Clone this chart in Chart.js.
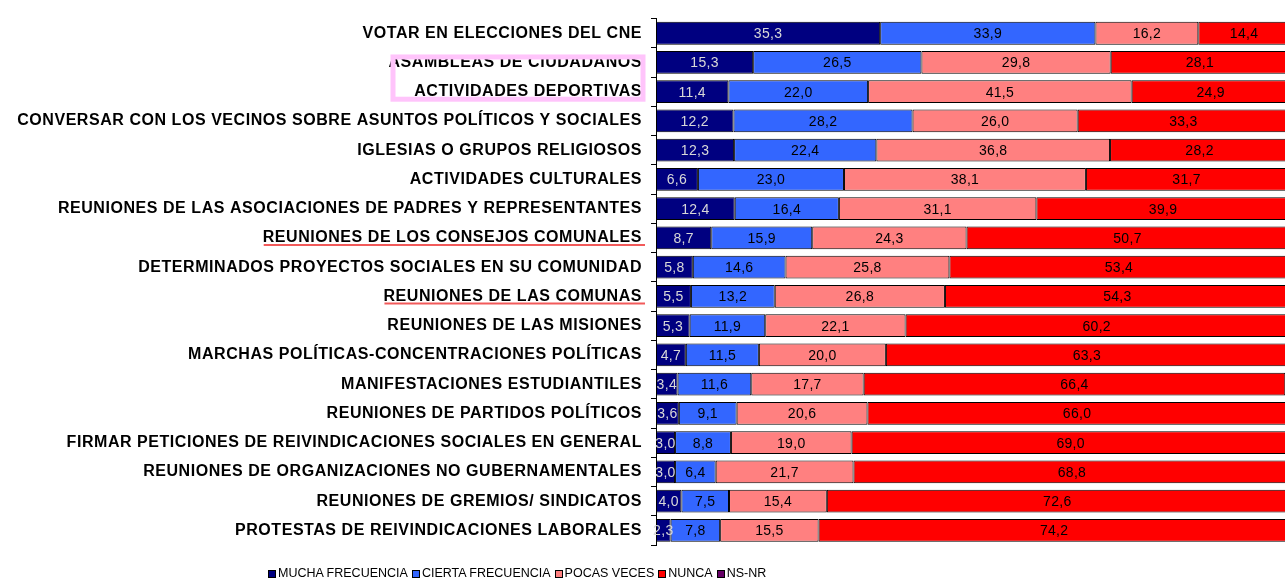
<!DOCTYPE html>
<html>
<head>
<meta charset="utf-8">
<script src="https://cdn.jsdelivr.net/npm/chart.js@4.4.1/dist/chart.umd.min.js"></script>
<style>
  html, body { margin: 0; padding: 0; background: #fff; overflow: hidden; }
  #wrap { position: relative; width: 1285px; height: 583px; }
  #legend {
    position: absolute; left: 268px; top: 566px;
    display: flex; gap: 4px; align-items: center;
    font-family: "Liberation Sans", Arial, sans-serif; font-size: 12.5px; color: #000;
  }
  #legend span.box { display: inline-block; width: 8px; height: 8px; border: 1px solid #000; margin-right: 2px; vertical-align: middle; box-sizing: border-box; }
</style>
</head>
<body>
<div id="wrap">
  <canvas id="chart" width="1285" height="583"></canvas>
  <div id="legend"></div>
</div>
<script>
  const categories = [
    'VOTAR EN ELECCIONES DEL CNE',
    'ASAMBLEAS DE CIUDADANOS',
    'ACTIVIDADES DEPORTIVAS',
    'CONVERSAR CON LOS VECINOS SOBRE ASUNTOS POLÍTICOS Y SOCIALES',
    'IGLESIAS O GRUPOS RELIGIOSOS',
    'ACTIVIDADES CULTURALES',
    'REUNIONES DE LAS ASOCIACIONES DE PADRES Y REPRESENTANTES',
    'REUNIONES DE LOS CONSEJOS COMUNALES',
    'DETERMINADOS PROYECTOS SOCIALES EN SU COMUNIDAD',
    'REUNIONES DE LAS COMUNAS',
    'REUNIONES DE LAS MISIONES',
    'MARCHAS POLÍTICAS-CONCENTRACIONES POLÍTICAS',
    'MANIFESTACIONES ESTUDIANTILES',
    'REUNIONES DE PARTIDOS POLÍTICOS',
    'FIRMAR PETICIONES DE REIVINDICACIONES SOCIALES EN GENERAL',
    'REUNIONES DE ORGANIZACIONES NO GUBERNAMENTALES',
    'REUNIONES DE GREMIOS/ SINDICATOS',
    'PROTESTAS DE REIVINDICACIONES LABORALES'
  ];

  const muchaFrecuencia = [35.3, 15.3, 11.4, 12.2, 12.3, 6.6, 12.4, 8.7, 5.8, 5.5, 5.3, 4.7, 3.4, 3.6, 3.0, 3.0, 4.0, 2.3];
  const ciertaFrecuencia = [33.9, 26.5, 22.0, 28.2, 22.4, 23.0, 16.4, 15.9, 14.6, 13.2, 11.9, 11.5, 11.6, 9.1, 8.8, 6.4, 7.5, 7.8];
  const pocasVeces = [16.2, 29.8, 41.5, 26.0, 36.8, 38.1, 31.1, 24.3, 25.8, 26.8, 22.1, 20.0, 17.7, 20.6, 19.0, 21.7, 15.4, 15.5];
  const nunca = [14.4, 28.1, 24.9, 33.3, 28.2, 31.7, 39.9, 50.7, 53.4, 54.3, 60.2, 63.3, 66.4, 66.0, 69.0, 68.8, 72.6, 74.2];
  const nsNr = [0.2, 0.3, 0.2, 0.3, 0.3, 0.6, 0.2, 0.4, 0.4, 0.2, 0.5, 0.5, 0.9, 0.7, 0.2, 0.1, 0.5, 0.2];

  const seriesNames = ['MUCHA FRECUENCIA', 'CIERTA FRECUENCIA', 'POCAS VECES', 'NUNCA', 'NS-NR'];
  const seriesColors = ['#000080', '#3366ff', '#ff8080', '#ff0000', '#660066'];
  const labelColors = ['#d8d8d8', '#000', '#000', '#000', null];

  // highlighted category labels in the original
  const underlined = [7, 9];
  const boxed = [1, 2];

  const FONT = '"Liberation Sans", Arial, sans-serif';
  const LABEL_SIZE = 16;
  const SPACING = '0.55px';

  const seriesData = [muchaFrecuencia, ciertaFrecuencia, pocasVeces, nunca, nsNr];
  const datasets = seriesData.map((d, i) => ({
    label: seriesNames[i],
    data: d,
    backgroundColor: seriesColors[i],
    borderColor: '#000',
    borderWidth: 1,
    borderSkipped: false,
    barPercentage: 0.78,
    categoryPercentage: 1
  }));

  const spacing = {
    id: 'spacing',
    beforeDraw(chart) { chart.ctx.letterSpacing = SPACING; }
  };

  const valueLabels = {
    id: 'valueLabels',
    afterDatasetsDraw(chart) {
      const ctx = chart.ctx;
      ctx.save();
      ctx.letterSpacing = '0.3px';
      ctx.font = '14px ' + FONT;
      ctx.textAlign = 'center';
      ctx.textBaseline = 'middle';
      chart.data.datasets.forEach((ds, i) => {
        if (!labelColors[i]) return;
        ctx.fillStyle = labelColors[i];
        chart.getDatasetMeta(i).data.forEach((bar, j) => {
          const x = (bar.x + bar.base) / 2;
          ctx.fillText(ds.data[j].toFixed(1).replace('.', ','), x, bar.y + 1);
        });
      });
      ctx.restore();
    }
  };

  const marks = {
    id: 'marks',
    afterDraw(chart) {
      const ctx = chart.ctx;
      const y = chart.scales.y;
      const xr = y.right - 14;
      ctx.save();
      ctx.letterSpacing = SPACING;
      ctx.font = 'bold ' + LABEL_SIZE + 'px ' + FONT;
      ctx.strokeStyle = '#f25a5a';
      ctx.lineWidth = 2;
      underlined.forEach(i => {
        const w = ctx.measureText(categories[i]).width;
        const yy = y.getPixelForValue(i) + 7;
        ctx.beginPath();
        ctx.moveTo(xr - w + 1, yy);
        ctx.lineTo(xr + 3, yy);
        ctx.stroke();
      });
      const top = y.getPixelForValue(boxed[0]) - 8;
      const bottom = y.getPixelForValue(boxed[1]) + 10;
      ctx.strokeStyle = '#ffc4fb';
      ctx.lineWidth = 5;
      ctx.strokeRect(xr - 249, top + 2.5, 250, bottom - top - 5);
      ctx.restore();
    }
  };

  new Chart(document.getElementById('chart'), {
    type: 'bar',
    data: { labels: categories, datasets: datasets },
    options: {
      indexAxis: 'y',
      responsive: false,
      animation: false,
      layout: { padding: { top: 15, bottom: 38, left: 0, right: 0 } },
      plugins: { legend: { display: false }, tooltip: { enabled: false } },
      scales: {
        x: { stacked: true, display: false, min: 0, max: 99.05 },
        y: {
          stacked: true,
          afterFit(scale) { scale.width = 656; },
          grid: { drawOnChartArea: false, tickLength: 5, color: '#000', offset: true },
          border: { display: true, color: '#000', width: 1 },
          ticks: {
            color: '#000',
            padding: 9,
            autoSkip: false,
            font: { family: FONT, size: LABEL_SIZE, weight: 'bold' }
          }
        }
      }
    },
    plugins: [spacing, valueLabels, marks]
  });

  const legend = document.getElementById('legend');
  seriesNames.forEach((name, i) => {
    const item = document.createElement('span');
    item.innerHTML = '<span class="box" style="background:' + seriesColors[i] + '"></span>' + name;
    legend.appendChild(item);
  });
</script>
</body>
</html>
